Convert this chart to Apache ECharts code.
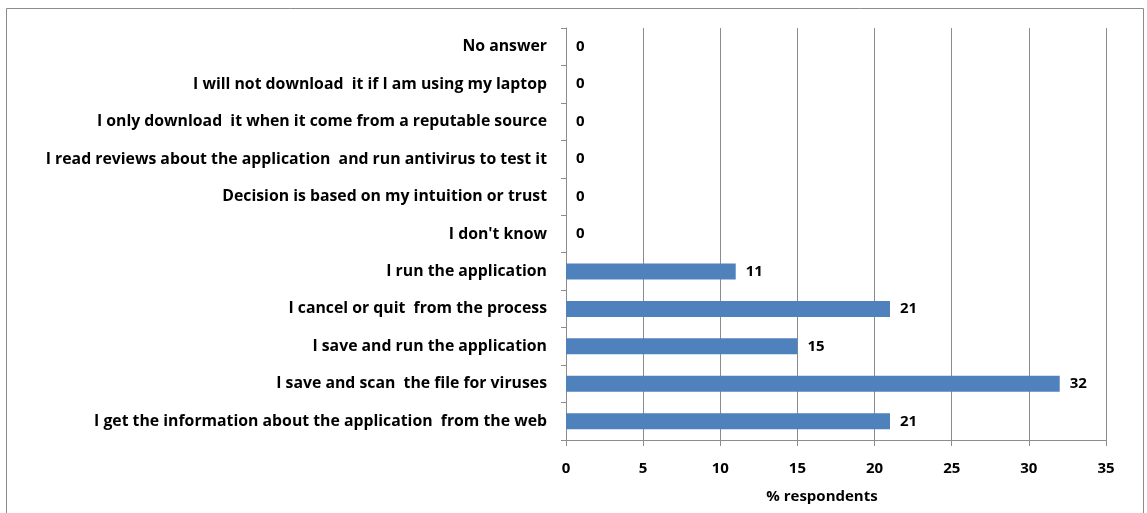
<!DOCTYPE html>
<html><head><meta charset="utf-8">
<script src="https://cdn.jsdelivr.net/npm/echarts@6/dist/echarts.min.js"></script>
<style>html,body{margin:0;padding:0;background:#fff}#c{width:1147px;height:513px}</style>
</head><body><div id="c"></div>
<script>
const categories = [
  "I get the information about the application  from the web",
  "I save and scan  the file for viruses",
  "I save and run the application",
  "I cancel or quit  from the process",
  "I run the application",
  "I don't know",
  "Decision is based on my intuition or trust",
  "I read reviews about the application  and run antivirus to test it",
  "I only download  it when it come from a reputable source",
  "I will not download  it if I am using my laptop",
  "No answer"
];
const values = [21, 32, 15, 21, 11, 0, 0, 0, 0, 0, 0];
const xTicks = [0, 5, 10, 15, 20, 25, 30, 35];
const xName = "% respondents";

const font = "Open Sans";
const chart = echarts.init(document.getElementById('c'), null, {renderer: 'canvas'});
chart.setOption({
  animation: false,
  backgroundColor: '#fff',
  graphic: [{
    type: 'rect', shape: {x: 6.5, y: 8.5, width: 1137, height: 520},
    style: {fill: 'none', stroke: '#8c8c8c', lineWidth: 1}, silent: true
  }],
  grid: {left: 566, right: 41, top: 28, bottom: 73, containLabel: false},
  xAxis: {
    type: 'value', min: xTicks[0], max: xTicks[xTicks.length - 1], interval: 5,
    name: xName, nameLocation: 'middle', nameGap: 49,
    nameTextStyle: {fontFamily: font, fontWeight: 'bold', fontSize: 15, color: '#000', padding: [0, 28, 0, 0]},
    axisLine: {show: true, lineStyle: {color: '#8c8c8c', width: 1}},
    axisTick: {show: true, length: 6, lineStyle: {color: '#8c8c8c'}},
    axisLabel: {fontFamily: font, fontWeight: 'bold', fontSize: 15, color: '#000', margin: 21},
    splitLine: {show: true, lineStyle: {color: '#8c8c8c', width: 1}}
  },
  yAxis: {
    type: 'category', data: categories,
    axisLine: {show: true, lineStyle: {color: '#8c8c8c', width: 1}},
    axisTick: {show: true, length: 5, lineStyle: {color: '#8c8c8c'}},
    axisLabel: {fontFamily: font, fontWeight: 'bold', fontSize: 15.8, color: '#000', margin: 19, padding: [3, 0, 0, 0]},
    splitLine: {show: false}
  },
  series: [{
    type: 'bar', data: values, barWidth: 16,
    itemStyle: {color: '#4f81bd'},
    label: {show: true, position: 'right', distance: 10, fontFamily: font, fontWeight: 'bold', fontSize: 15, color: '#000', padding: [3, 0, 0, 0]}
  }]
});
</script></body></html>
